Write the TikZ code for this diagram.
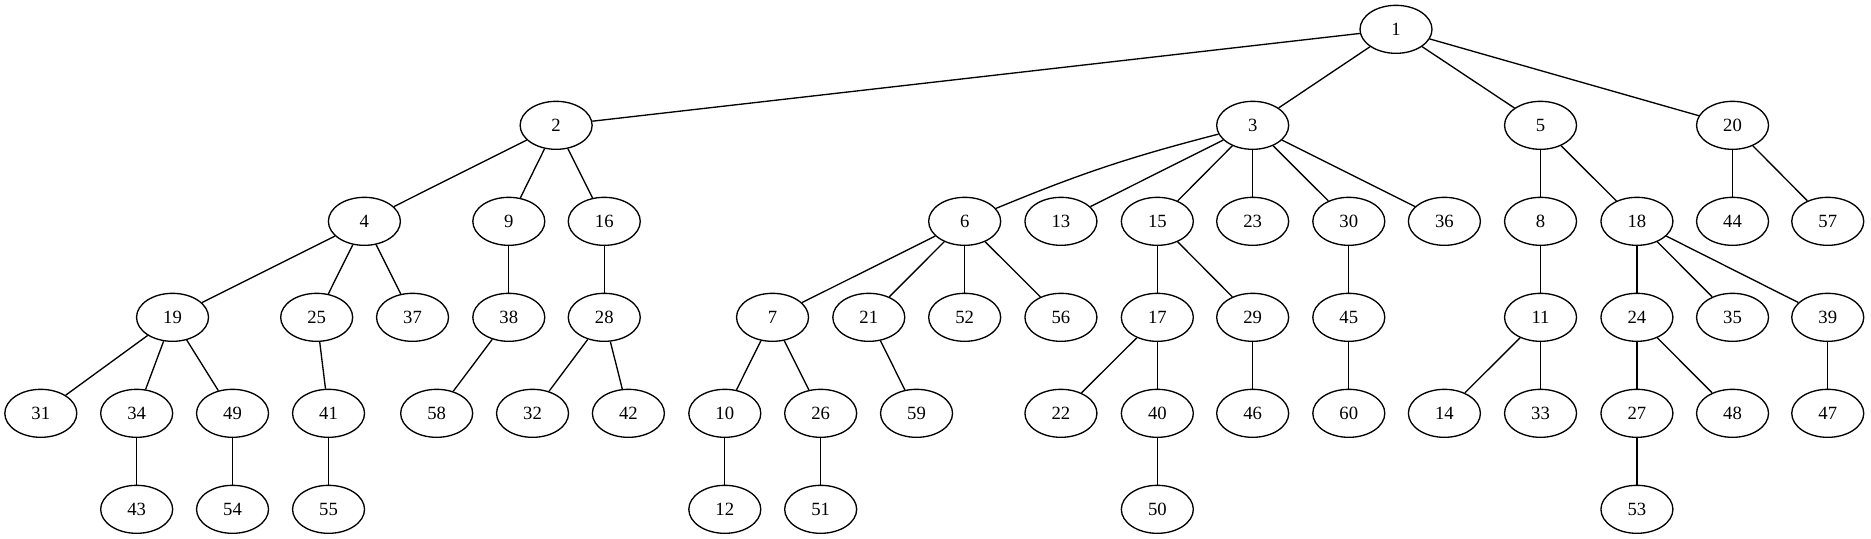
\documentclass[tikz,border=0pt]{standalone}
\usepackage{fontspec}
\setmainfont{Liberation Serif}
\usetikzlibrary{shapes.geometric}
\begin{document}
\begin{tikzpicture}[x=1pt,y=1pt,
  nd/.style={draw, ellipse, line width=1pt, minimum width=54pt, minimum height=36pt, inner sep=0pt, font=\fontsize{14}{16}\selectfont},
  ed/.style={line width=1pt}]
\useasboundingbox (0,0) rectangle (1403.25,404.25);
\foreach \n/\x/\r in {
  1/1047/0,
  2/417.1/1, 3/939.5/1, 5/1155.4/1, 20/1299.4/1,
  4/273.3/2, 9/381.6/2, 16/453.2/2, 6/723.5/2, 13/795.7/2, 15/868/2, 23/939.5/2, 30/1011.6/2, 36/1083.3/2, 8/1155.4/2, 18/1227.7/2, 44/1299.4/2, 57/1370.8/2,
  19/129.4/3, 25/237.5/3, 37/309.4/3, 38/381.6/3, 28/453.2/3, 7/579.4/3, 21/651.6/3, 52/723.5/3, 56/795.7/3, 17/868/3, 29/939.5/3, 45/1011.6/3, 11/1155.4/3, 24/1227.7/3, 35/1299.4/3, 39/1370.8/3,
  31/30.6/4, 34/102.5/4, 49/174.4/4, 41/246.4/4, 58/327.5/4, 32/399.4/4, 42/471.3/4, 10/543.6/4, 26/615.5/4, 59/687.4/4, 22/795.7/4, 40/868/4, 46/939.5/4, 60/1011.6/4, 14/1083.3/4, 33/1155.4/4, 27/1227.7/4, 48/1299.4/4, 47/1370.8/4,
  43/102.5/5, 54/174.4/5, 55/246.4/5, 12/543.6/5, 51/615.5/5, 50/868/5, 53/1227.7/5}
  \node[nd] (n\n) at (\x, {382.25-72*\r}) {\n};
\foreach \a/\b in {
  1/2, 1/3, 1/5, 1/20,
  2/4, 2/9, 2/16,
  3/13, 3/15, 3/23, 3/30, 3/36,
  5/8, 5/18, 20/44, 20/57,
  4/19, 4/25, 4/37, 9/38, 16/28,
  6/7, 6/21, 6/52, 6/56, 15/17, 15/29, 30/45, 8/11,
  18/24, 18/35, 18/39,
  19/31, 19/34, 19/49, 25/41, 38/58, 28/32, 28/42,
  7/10, 7/26, 21/59, 17/22, 17/40, 29/46, 45/60,
  11/14, 11/33, 24/27, 24/48, 39/47,
  34/43, 49/54, 41/55, 10/12, 26/51, 40/50, 27/53}
  \draw[ed] (n\a) -- (n\b);
\draw[ed] (n3) to[bend right=4] (n6);
\end{tikzpicture}
\end{document}
